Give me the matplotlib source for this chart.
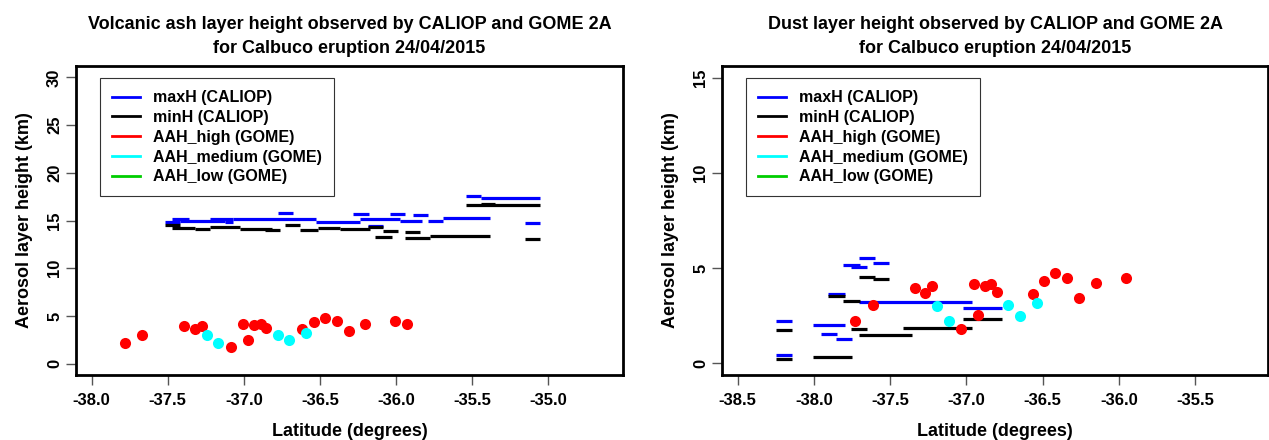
import numpy as np
import matplotlib
matplotlib.use('Agg')
import matplotlib.pyplot as plt
from matplotlib.lines import Line2D

plt.rcParams['font.family'] = ['Liberation Sans', 'DejaVu Sans']
plt.rcParams['font.weight'] = 'bold'

#### left panel: volcanic ash, CALIOP layers as (lat start, lat end, height)
ash_max_lat0 = [-37.518, -37.472, -37.420, -37.223, -37.124, -37.072, -36.776, -36.526, -36.283, -36.237,
                -36.040, -35.974, -35.889, -35.790, -35.692, -36.185, -35.541, -35.442, -35.153]
ash_max_lat1 = [-37.420, -37.361, -37.124, -37.072, -37.072, -36.526, -36.677, -36.237, -36.178, -35.974,
                -35.941, -35.830, -35.790, -35.692, -35.383, -36.086, -35.442, -35.054, -35.054]
ash_max_h = [14.89, 15.16, 14.95, 15.11, 14.84, 15.16, 15.74, 14.89, 15.63, 15.16,
             15.63, 15.00, 15.53, 15.00, 15.26, 14.42, 17.53, 17.32, 14.79]

ash_min_lat0 = [-37.518, -37.472, -37.321, -37.223, -37.026, -36.861, -36.730, -36.631, -36.513, -36.368,
                -36.185, -36.138, -36.086, -35.941, -35.941, -35.777, -35.541, -35.442, -35.153]
ash_min_lat1 = [-37.420, -37.321, -37.223, -37.026, -36.815, -36.763, -36.631, -36.513, -36.368, -36.171,
                -36.086, -36.027, -35.988, -35.843, -35.777, -35.383, -35.054, -35.347, -35.054]
ash_min_h = [14.52, 14.26, 14.10, 14.37, 14.10, 14.00, 14.52, 14.05, 14.26, 14.15,
             14.37, 13.26, 13.94, 13.78, 13.15, 13.42, 16.58, 16.74, 13.05]

# GOME aerosol layer height points
ash_high_lat = [-37.781, -37.668, -37.392, -37.321, -37.275, -37.085, -37.004, -36.975, -36.934, -36.890,
                -36.855, -36.620, -36.541, -36.469, -36.388, -36.311, -36.202, -36.005, -35.926]
ash_high_h = [2.14, 3.03, 3.98, 3.62, 3.98, 1.76, 4.19, 2.50, 4.09, 4.12,
              3.70, 3.62, 4.33, 4.78, 4.51, 3.45, 4.19, 4.44, 4.19]
ash_med_lat = [-37.244, -37.168, -36.778, -36.702, -36.590]
ash_med_h = [3.03, 2.14, 3.03, 2.50, 3.20]

#### right panel: dust
dust_max_lat0 = [-38.249, -38.249, -38.006, -37.953, -37.855, -37.907, -37.809, -37.757, -37.704, -37.612, -37.704, -37.022]
dust_max_lat1 = [-38.144, -38.144, -37.796, -37.848, -37.750, -37.796, -37.698, -37.652, -37.599, -37.507, -36.963, -36.766]
dust_max_h = [2.23, 0.42, 1.98, 1.51, 1.25, 3.63, 5.17, 5.04, 5.51, 5.25, 3.23, 2.91]

dust_min_lat0 = [-38.249, -38.249, -38.006, -37.907, -37.809, -37.757, -37.704, -37.612, -37.704, -37.415, -37.022]
dust_min_lat1 = [-38.144, -38.144, -37.750, -37.796, -37.698, -37.652, -37.599, -37.507, -37.356, -36.963, -36.766]
dust_min_h = [1.74, 0.19, 0.33, 3.53, 3.28, 1.77, 4.51, 4.42, 1.47, 1.86, 2.32]

dust_high_lat = [-37.728, -37.614, -37.340, -37.269, -37.225, -37.033, -36.949, -36.922, -36.877, -36.841,
                 -36.802, -36.566, -36.490, -36.418, -36.341, -36.259, -36.149, -35.952]
dust_high_h = [2.23, 3.05, 3.96, 3.71, 4.07, 1.77, 4.14, 2.51, 4.05, 4.14,
               3.75, 3.62, 4.32, 4.76, 4.49, 3.44, 4.23, 4.46]
dust_med_lat = [-37.190, -37.113, -36.726, -36.648, -36.539]
dust_med_h = [3.00, 2.22, 3.04, 2.47, 3.18]

legend_labels = ['maxH (CALIOP)', 'minH (CALIOP)', 'AAH_high (GOME)', 'AAH_medium (GOME)', 'AAH_low (GOME)']
legend_colors = ['#0000FF', '#000000', '#FF0000', '#00FFFF', '#00CD00']


def draw_panel(ax, title, max_seg, min_seg, high, med, xlim, ylim, xticks, yticks):
    ax.hlines(max_seg[2], max_seg[0], max_seg[1], colors='#0000FF', lw=2.3)
    ax.hlines(min_seg[2], min_seg[0], min_seg[1], colors='#000000', lw=2.3)
    ax.plot(high[0], high[1], 'o', color='#FF0000', ms=8, mec='none')
    ax.plot(med[0], med[1], 'o', color='#00FFFF', ms=8, mec='none')
    ax.set_xlim(xlim)
    ax.set_ylim(ylim)
    ax.set_xticks(xticks)
    ax.set_xticklabels(['%.1f' % t for t in xticks])
    ax.set_yticks(yticks)
    ax.set_yticklabels([str(t) for t in yticks], rotation=90, va='center')
    ax.tick_params(labelsize=12, length=7, width=1, color='#555555')
    ax.tick_params(axis='x', pad=6)
    ax.tick_params(axis='y', pad=3)
    for s in ax.spines.values():
        s.set_linewidth(2)
    ax.set_title(title, fontsize=13, fontweight='bold', linespacing=1.5, pad=9.5)
    ax.set_xlabel('Latitude (degrees)', fontsize=13, fontweight='bold', labelpad=11)
    ax.set_ylabel('Aerosol layer height (km)', fontsize=13, fontweight='bold', labelpad=10)
    handles = [Line2D([], [], color=c, lw=2) for c in legend_colors]
    leg = ax.legend(handles, legend_labels, loc='upper left', bbox_to_anchor=(0.043, 0.961),
                    borderaxespad=0, fontsize=11.5, handlelength=1.8, handletextpad=0.8,
                    labelspacing=0.30, borderpad=0.76, fancybox=False, framealpha=1,
                    edgecolor='#333333')
    leg.get_frame().set_linewidth(0.8)


fig = plt.figure(figsize=(12.69, 4.40), dpi=100)
ax1 = fig.add_axes([0.0599, 0.1477, 0.4311, 0.7023])
ax2 = fig.add_axes([0.5690, 0.1477, 0.4302, 0.7023])

draw_panel(ax1, 'Volcanic ash layer height observed by CALIOP and GOME 2A\nfor Calbuco eruption 24/04/2015',
           (ash_max_lat0, ash_max_lat1, ash_max_h), (ash_min_lat0, ash_min_lat1, ash_min_h),
           (ash_high_lat, ash_high_h), (ash_med_lat, ash_med_h),
           (-38.103, -34.507), (-1.2, 31.2), np.arange(-38.0, -34.9, 0.5), [0, 5, 10, 15, 20, 25, 30])
draw_panel(ax2, 'Dust layer height observed by CALIOP and GOME 2A\nfor Calbuco eruption 24/04/2015',
           (dust_max_lat0, dust_max_lat1, dust_max_h), (dust_min_lat0, dust_min_lat1, dust_min_h),
           (dust_high_lat, dust_high_h), (dust_med_lat, dust_med_h),
           (-38.603, -35.021), (-0.63, 15.63), np.arange(-38.5, -35.4, 0.5), [0, 5, 10, 15])

fig.savefig('out.png', dpi=100)
